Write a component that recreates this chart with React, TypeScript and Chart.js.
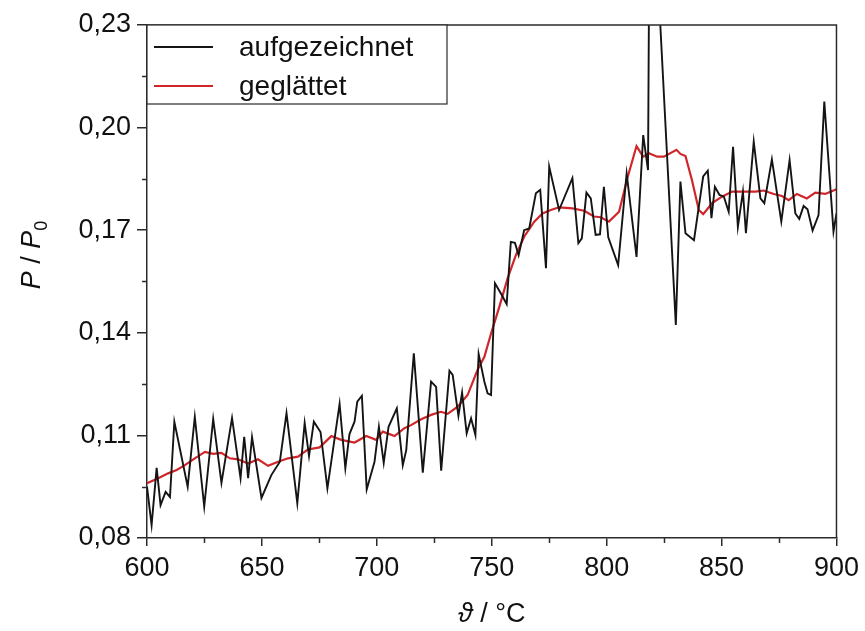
import { useEffect, useRef } from 'react';
import { Chart, registerables } from 'chart.js';

Chart.register(...registerables);

// ---- data ----
const recordedTemp = [
  600, 602, 604.2, 605.9, 608.1, 610, 611.9, 617.7, 620.8, 624.9, 628.8, 632.4, 637, 640.7, 642.3, 644, 645.7, 649.8,
  654.1, 657.8, 660.7, 665.4, 668.6, 670.5, 672.6, 675.5, 678.5, 683.8, 686.3, 688.1, 690.3, 691.5, 693.5, 695.6,
  699, 700.9, 703, 705.1, 708.7, 711.3, 712.8, 716.1, 720, 723.6, 725.8, 728, 731.6, 733, 735.5, 737.1, 739.1, 741,
  742.9, 744.3, 746.8, 748.2, 749.7, 751.4, 754, 756.5, 758.3, 760.1, 761.7, 764.1, 766.3, 769.2, 771.1, 773.6, 775,
  779.3, 785.1, 787.7, 789.2, 791.2, 793.1, 795.2, 797.1, 798.8, 800.7, 805, 808.7, 813, 815.9, 818, 818.6, 821.5,
  830.1, 832.1, 834.3, 838, 842, 844, 845.6, 847.1, 849.1, 851, 853.1, 855, 857.1, 859.3, 860.6, 864, 866.9, 868.6,
  871.9, 876, 879.6, 882.1, 883.8, 885.7, 887.4, 889.6, 892.2, 894.7, 898.7, 900,
];
const recordedRatio = [
  0.095, 0.0838, 0.1005, 0.0896, 0.0935, 0.092, 0.114, 0.095, 0.1154, 0.0892, 0.1148, 0.0961, 0.1151, 0.0975, 0.1096, 0.0975, 0.1095, 0.0917,
  0.0984, 0.1023, 0.1165, 0.0902, 0.1136, 0.104, 0.114, 0.111, 0.0945, 0.1192, 0.1004, 0.1104, 0.114, 0.1199, 0.1216, 0.0942,
  0.1023, 0.1125, 0.102, 0.1125, 0.1179, 0.1013, 0.1057, 0.134, 0.0991, 0.1257, 0.1242, 0.0997, 0.1289, 0.1277, 0.1157, 0.1225, 0.1106, 0.115,
  0.1101, 0.1338, 0.1257, 0.1223, 0.1218, 0.1545, 0.1515, 0.1484, 0.1666, 0.1663, 0.1627, 0.17, 0.1705, 0.1808, 0.1818, 0.1589, 0.1886,
  0.1759, 0.1852, 0.1662, 0.1676, 0.181, 0.1793, 0.1686, 0.1688, 0.1827, 0.1679, 0.1598, 0.1866, 0.1622, 0.1978, 0.1876, 0.258, 0.254,
  0.1423, 0.1842, 0.1691, 0.1671, 0.1857, 0.1874, 0.1735, 0.1827, 0.1803, 0.1798, 0.1754, 0.1944, 0.171, 0.1813, 0.1691, 0.1959, 0.1793, 0.1779,
  0.1907, 0.1725, 0.1905, 0.1749, 0.1733, 0.1771, 0.1761, 0.1699, 0.1744, 0.2076, 0.1696, 0.1749,
];
const smoothTemp = [
  600, 604.9, 609.2, 612.9, 616.5, 620.8, 625.2, 628.8, 632.4, 636, 639.6, 644, 648.3, 652.7, 657, 661.4, 665.7, 670,
  675.1, 680.2, 684.5, 690.3, 695.4, 699.7, 702.6, 707.7, 712, 714.9, 719.3, 723.6, 727.9, 730.8, 735.2, 739.5, 743.8,
  746.8, 749.7, 753.3, 756.9, 760.5, 764.1, 768.5, 772.1, 775.7, 779.3, 785.1, 790.2, 794.5, 797.4, 801, 805.4, 809,
  813, 815.9, 818.4, 822, 824.9, 830.4, 832.1, 834.3, 837.1, 840.1, 842, 845.9, 850.2, 854.6, 859.7, 864.7, 868.3,
  872.7, 876.3, 879.2, 882.8, 887.1, 890.8, 895.1, 900,
];
const smoothRatio = [
  0.096, 0.0975, 0.0989, 0.0999, 0.1013, 0.1033, 0.1052, 0.1046, 0.1049, 0.1033, 0.103, 0.1018, 0.103, 0.1011, 0.1023, 0.1033, 0.1038, 0.1059,
  0.1065, 0.1098, 0.1087, 0.1079, 0.1098, 0.1087, 0.1111, 0.1098, 0.1121, 0.113, 0.1147, 0.116, 0.1169, 0.1163, 0.1184, 0.1218, 0.1291,
  0.133, 0.1398, 0.1476, 0.1559, 0.1627, 0.1681, 0.1725, 0.1749, 0.1759, 0.1767, 0.1764, 0.1757, 0.174, 0.1738, 0.1725, 0.1754, 0.1852,
  0.1946, 0.1915, 0.1925, 0.1915, 0.1915, 0.1935, 0.1923, 0.1917, 0.1847, 0.1759, 0.1747, 0.1779, 0.1798, 0.1813, 0.1813, 0.1813, 0.1816,
  0.1806, 0.18, 0.1788, 0.1806, 0.1793, 0.181, 0.1806, 0.182,
];
const xTicks = [600, 650, 700, 750, 800, 850, 900];
const yTicks = [0.08, 0.11, 0.14, 0.17, 0.2, 0.23];
const seriesNames = ['aufgezeichnet', 'geglättet'];
const seriesColors = ['#141414', '#d0262a'];

const AXIS = '#2b2b2b';
const FONT = '"Liberation Sans", Arial, sans-serif';

const decorPlugin = {
  id: 'decor',
  afterDraw(chart: any) {
    const { ctx, chartArea: a, scales } = chart;
    const xs = scales.x;
    const ys = scales.y;
    ctx.save();
    ctx.strokeStyle = AXIS;
    ctx.lineWidth = 1.5;
    // top & right frame
    ctx.beginPath();
    ctx.moveTo(a.left, a.top);
    ctx.lineTo(a.right, a.top);
    ctx.lineTo(a.right, a.bottom);
    ctx.stroke();
    // minor ticks
    for (let i = 0; i < xTicks.length - 1; i++) {
      const px = Math.round(xs.getPixelForValue((xTicks[i] + xTicks[i + 1]) / 2)) + 0.5;
      ctx.beginPath();
      ctx.moveTo(px, a.bottom);
      ctx.lineTo(px, a.bottom + 5);
      ctx.stroke();
    }
    for (let i = 0; i < yTicks.length - 1; i++) {
      const py = Math.round(ys.getPixelForValue((yTicks[i] + yTicks[i + 1]) / 2)) + 0.5;
      ctx.beginPath();
      ctx.moveTo(a.left, py);
      ctx.lineTo(a.left - 5, py);
      ctx.stroke();
    }
    // legend box
    const lx = a.left, ly = a.top, lw = 300, lh = 79;
    ctx.fillStyle = '#fff';
    ctx.fillRect(lx, ly, lw, lh);
    ctx.strokeStyle = AXIS;
    ctx.lineWidth = 1.2;
    ctx.strokeRect(lx, ly, lw, lh);
    ctx.font = `28px ${FONT}`;
    ctx.textBaseline = 'middle';
    ctx.textAlign = 'left';
    seriesNames.forEach((name, i) => {
      const cy = ly + 22 + i * 39;
      ctx.strokeStyle = seriesColors[i];
      ctx.lineWidth = i === 0 ? 1.9 : 2.2;
      ctx.beginPath();
      ctx.moveTo(lx + 7, cy);
      ctx.lineTo(lx + 66, cy);
      ctx.stroke();
      ctx.fillStyle = '#111';
      ctx.fillText(name, lx + 92, cy + 1);
    });
    // y axis title: P / P0
    ctx.save();
    ctx.translate(40, 255);
    ctx.rotate(-Math.PI / 2);
    ctx.fillStyle = '#111';
    ctx.textBaseline = 'alphabetic';
    const parts = [
      { t: 'P', f: `italic 27px ${FONT}`, dy: 0 },
      { t: ' / ', f: `27px ${FONT}`, dy: 0 },
      { t: 'P', f: `italic 27px ${FONT}`, dy: 0 },
      { t: '0', f: `18px ${FONT}`, dy: 7 },
    ];
    let total = 0;
    parts.forEach((p) => { ctx.font = p.f; total += ctx.measureText(p.t).width; });
    let x = -total / 2;
    parts.forEach((p) => {
      ctx.font = p.f;
      ctx.fillText(p.t, x, p.dy);
      x += ctx.measureText(p.t).width;
    });
    ctx.restore();
    // x axis title: ϑ / °C
    const xparts = [
      { t: 'ϑ', f: `italic 27px ${FONT}` },
      { t: ' / °C', f: `27px ${FONT}` },
    ];
    let xt = 0;
    xparts.forEach((p) => { ctx.font = p.f; xt += ctx.measureText(p.t).width; });
    let cx = (a.left + a.right) / 2 - xt / 2;
    ctx.fillStyle = '#111';
    ctx.textBaseline = 'alphabetic';
    xparts.forEach((p) => {
      ctx.font = p.f;
      ctx.fillText(p.t, cx, 622);
      cx += ctx.measureText(p.t).width;
    });
    ctx.restore();
  },
};

export default function App() {
  const ref = useRef<HTMLCanvasElement | null>(null);
  useEffect(() => {
    if (!ref.current) return;
    const chart = new Chart(ref.current, {
      type: 'line',
      data: {
        datasets: [
          {
            label: seriesNames[0],
            data: recordedTemp.map((t, i) => ({ x: t, y: recordedRatio[i] })),
            borderColor: seriesColors[0],
            borderWidth: 1.9,
            pointRadius: 0,
            tension: 0,
            clip: 0,
          },
          {
            label: seriesNames[1],
            data: smoothTemp.map((t, i) => ({ x: t, y: smoothRatio[i] })),
            borderColor: seriesColors[1],
            borderWidth: 2.2,
            pointRadius: 0,
            tension: 0,
            clip: 0,
          },
        ],
      },
      options: {
        animation: false,
        responsive: true,
        maintainAspectRatio: false,
        devicePixelRatio: 1,
        layout: { padding: { left: 0, top: 25, right: 27, bottom: 0 } },
        plugins: { legend: { display: false }, tooltip: { enabled: false }, title: { display: false } },
        scales: {
          x: {
            type: 'linear',
            min: 600,
            max: 900,
            afterBuildTicks: (s: any) => { s.ticks = xTicks.map((v) => ({ value: v })); },
            afterFit: (s: any) => { s.height = 93; },
            grid: { drawOnChartArea: false, drawTicks: true, tickLength: 8, color: AXIS, lineWidth: 1.5 },
            border: { display: true, color: AXIS, width: 1.5 },
            ticks: {
              color: '#111',
              font: { family: FONT, size: 27 },
              padding: 6,
              maxRotation: 0,
              callback: (v: any) => String(v),
            },
          },
          y: {
            type: 'linear',
            min: 0.08,
            max: 0.23,
            afterBuildTicks: (s: any) => { s.ticks = yTicks.map((v) => ({ value: v })); },
            afterFit: (s: any) => { s.width = 147; },
            grid: { drawOnChartArea: false, drawTicks: true, tickLength: 10, color: AXIS, lineWidth: 1.5 },
            border: { display: true, color: AXIS, width: 1.5 },
            ticks: {
              color: '#111',
              font: { family: FONT, size: 27 },
              padding: 6,
              callback: (v: any) => Number(v).toFixed(2).replace('.', ','),
            },
          },
        },
      },
      plugins: [decorPlugin],
    });
    return () => chart.destroy();
  }, []);
  return (
    <div style={{ position: 'absolute', left: 0, top: 0, width: 865, height: 631 }}>
      <canvas ref={ref} />
    </div>
  );
}
